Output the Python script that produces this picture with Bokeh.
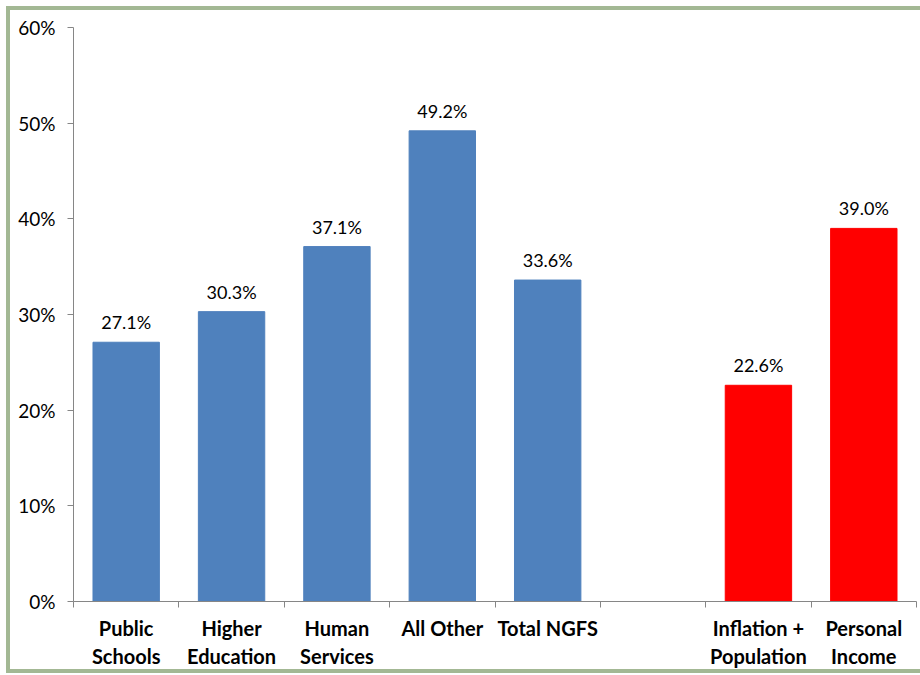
from bokeh.plotting import figure
from bokeh.models import ColumnDataSource, FixedTicker, LinearAxis, Range1d
from bokeh.core.properties import value
from bokeh.embed import file_html
from bokeh.resources import INLINE

# ---- data ----
categories = ["Public\nSchools", "Higher\nEducation", "Human\nServices", "All Other",
              "Total NGFS", "", "Inflation +\nPopulation", "Personal\nIncome"]
bar_index = [0, 1, 2, 3, 4, 6, 7]
bar_values = [27.1, 30.3, 37.1, 49.2, 33.6, 22.6, 39.0]
bar_colors = ["#4F81BD", "#4F81BD", "#4F81BD", "#4F81BD", "#4F81BD", "#FF0000", "#FF0000"]
y_ticks = [0, 10, 20, 30, 40, 50, 60]

FONT = "Lato"

src = ColumnDataSource(dict(
    x=[i + 0.5 for i in bar_index],
    top=bar_values,
    color=bar_colors,
    label=[f"{v:.1f}%" for v in bar_values],
))

p = figure(width=914, height=667, output_backend="svg", toolbar_location=None,
           x_range=Range1d(0, len(categories)), y_range=Range1d(0, 60),
           min_border_left=63, min_border_top=17, min_border_right=8, min_border_bottom=76,
           margin=(6, 0, 0, 6),
           styles={"border-left": "4px solid #A3B894", "border-top": "4px solid #A3B894",
                   "border-bottom": "4px solid #A3B894"})
p.outline_line_color = None
p.xgrid.visible = False
p.ygrid.visible = False

p.vbar(x="x", top="top", width=0.63, color="color", source=src)
p.text(x="x", y="top", text="label", source=src, text_align="center",
       text_baseline="bottom", y_offset=-9, text_font=value(FONT),
       text_font_size="18px", text_color="#000000")

# y axis
ya = p.yaxis[0]
ya.ticker = FixedTicker(ticks=y_ticks)
ya.major_label_overrides = {t: f"{t}%" for t in y_ticks}
ya.axis_line_color = "#868686"
ya.major_tick_line_color = "#868686"
ya.major_tick_in = 0
ya.major_tick_out = 6
ya.minor_tick_line_color = None
ya.major_label_standoff = 12
ya.major_label_text_font = FONT
ya.major_label_text_font_size = "19px"
ya.major_label_text_color = "#000000"

# x axis: tick marks at category boundaries
xa = p.xaxis[0]
xa.ticker = FixedTicker(ticks=list(range(len(categories) + 1)))
xa.major_label_overrides = {i: "" for i in range(len(categories) + 1)}
xa.major_label_text_font_size = "1px"
xa.major_label_standoff = 0
xa.axis_line_color = "#868686"
xa.major_tick_line_color = "#868686"
xa.major_tick_in = 0
xa.major_tick_out = 6
xa.minor_tick_line_color = None

# x axis: category labels at centers
xl = LinearAxis(ticker=FixedTicker(ticks=[i + 0.5 for i in range(len(categories))]))
xl.major_label_overrides = {i + 0.5: c for i, c in enumerate(categories)}
xl.axis_line_color = None
xl.major_tick_line_color = None
xl.minor_tick_line_color = None
xl.major_tick_out = 0
xl.major_tick_in = 0
xl.major_label_standoff = 8
xl.major_label_text_font = FONT
xl.major_label_text_font_size = "20px"
xl.major_label_text_font_style = "bold"
xl.major_label_text_line_height = 1.2
xl.major_label_text_color = "#000000"
p.add_layout(xl, "below")

open("out.html", "w").write(file_html(p, INLINE))
